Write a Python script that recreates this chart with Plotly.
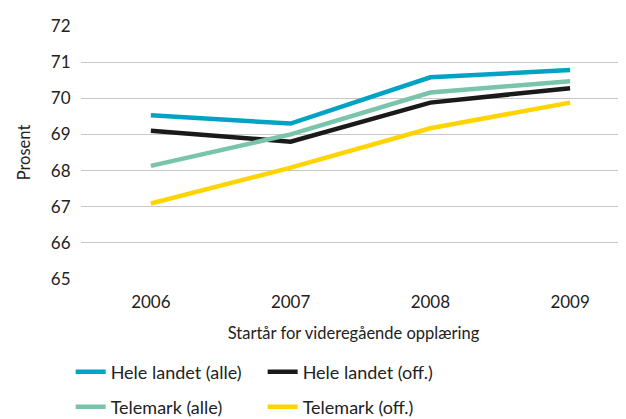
import plotly.graph_objects as go

years = ["2006", "2007", "2008", "2009"]
hele_alle = [69.53, 69.30, 70.58, 70.78]
hele_off = [69.10, 68.80, 69.88, 70.28]
tele_alle = [68.13, 69.00, 70.16, 70.47]
tele_off = [67.09, 68.08, 69.17, 69.88]
y_ticks = [65, 66, 67, 68, 69, 70, 71, 72]

series = [
    ("Hele landet (alle)", hele_alle, "#00a3c4", "legend"),
    ("Hele landet (off.)", hele_off, "#1a1a1a", "legend"),
    ("Telemark (alle)", tele_alle, "#79c4ab", "legend2"),
    ("Telemark (off.)", tele_off, "#ffd400", "legend2"),
]

FONT = "Lato"
fig = go.Figure()
for name, vals, col, lg in series:
    fig.add_trace(go.Scatter(
        x=list(range(len(years))), y=vals, name=name, mode="lines",
        line=dict(color=col, width=4.5), legend=lg,
    ))

leg_common = dict(
    orientation="h", xanchor="left", yanchor="middle",
    entrywidth=147, entrywidthmode="pixels",
    font=dict(size=18, color="#222222"), bgcolor="rgba(0,0,0,0)",
)
fig.update_layout(
    width=618, height=411,
    margin=dict(l=73, r=0, t=18, b=140, autoexpand=False),
    plot_bgcolor="white", paper_bgcolor="white",
    font=dict(family=FONT, color="#222222", size=17),
    showlegend=True,
    legend=dict(x=-0.019, y=-0.368, **leg_common),
    legend2=dict(x=-0.019, y=-0.506, **leg_common),
    xaxis=dict(
        tickmode="array", tickvals=list(range(len(years))), ticktext=years,
        range=[-0.5, 3.4], showgrid=False, zeroline=False, showline=False,
        ticks="outside", ticklen=8, tickcolor="rgba(0,0,0,0)",
        title=dict(text="Startår for videregående opplæring", standoff=16,
                   font=dict(size=16.5)),
        tickfont=dict(size=17),
    ),
    yaxis=dict(
        range=[65, 72], tickvals=y_ticks, showgrid=True, gridcolor="#c8c8c8",
        gridwidth=1, zeroline=False, showline=False,
        title=dict(text="Prosent", standoff=16, font=dict(size=16.5)),
        tickfont=dict(size=17),
        ticks="outside", ticklen=6, tickcolor="rgba(0,0,0,0)",
    ),
)
fig.write_html("out.html")
